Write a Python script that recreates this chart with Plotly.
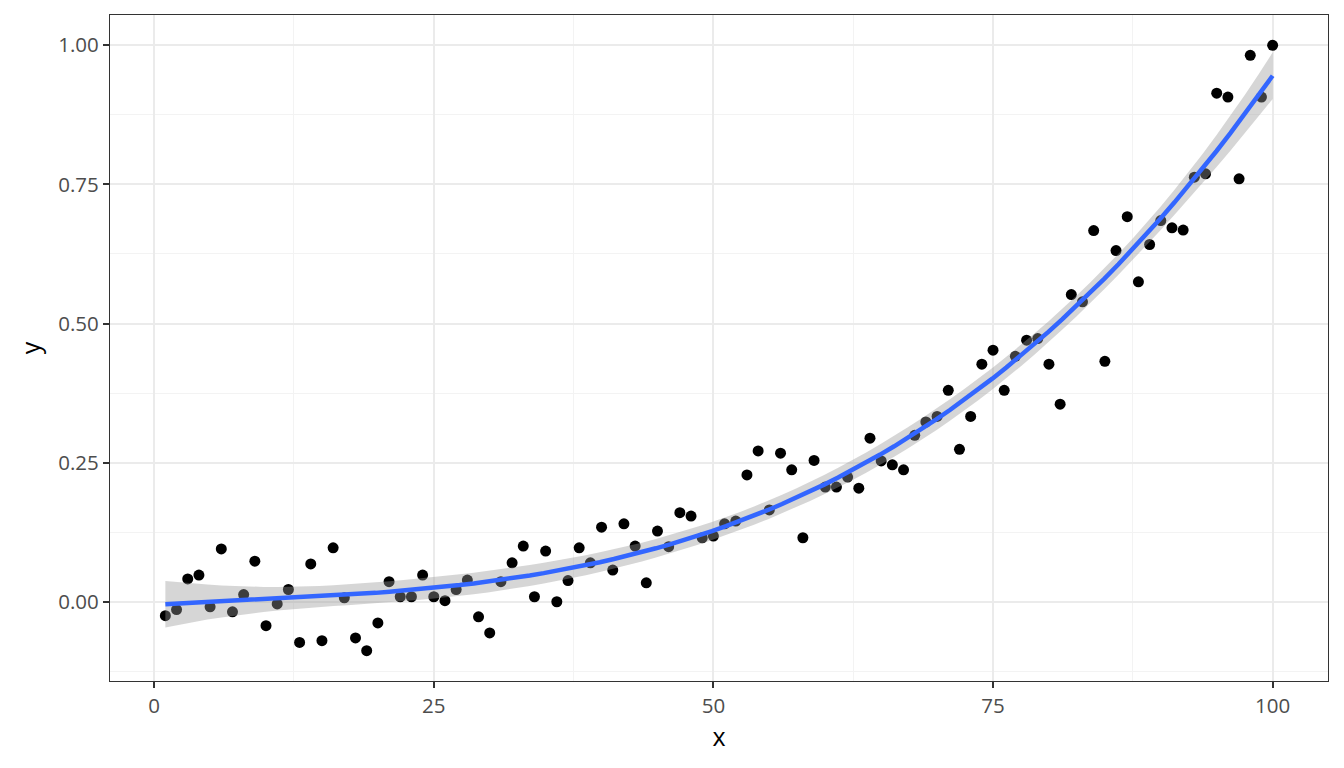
import numpy as np
import plotly.graph_objects as go

x_vals = list(range(1, 101))
y_vals = [
    -0.025, -0.014, 0.041, 0.048, -0.009, 0.095, -0.018, 0.013, 0.073, -0.043,
    -0.004, 0.022, -0.073, 0.068, -0.070, 0.097, 0.007, -0.065, -0.088, -0.038,
    0.036, 0.009, 0.009, 0.048, 0.009, 0.002, 0.022, 0.039, -0.027, -0.056,
    0.036, 0.070, 0.100, 0.009, 0.091, 0.000, 0.038, 0.097, 0.070, 0.134,
    0.057, 0.140, 0.100, 0.034, 0.127, 0.099, 0.160, 0.154, 0.115, 0.118,
    0.140, 0.145, 0.228, 0.271, 0.165, 0.267, 0.237, 0.115, 0.254, 0.206,
    0.206, 0.224, 0.204, 0.294, 0.253, 0.246, 0.237, 0.299, 0.323, 0.333,
    0.380, 0.274, 0.333, 0.427, 0.452, 0.380, 0.441, 0.470, 0.473, 0.427,
    0.355, 0.552, 0.539, 0.667, 0.432, 0.631, 0.692, 0.575, 0.642, 0.685,
    0.672, 0.668, 0.763, 0.769, 0.914, 0.907, 0.760, 0.982, 0.907, 1.000,
]
x_ticks = [0, 25, 50, 75, 100]
y_ticks = [0.0, 0.25, 0.5, 0.75, 1.0]
y_tick_labels = ["0.00", "0.25", "0.50", "0.75", "1.00"]

# --- linear model y ~ poly(x, 3) with 95% confidence band ---
xs = np.array(x_vals, dtype=float)
ys = np.array(y_vals, dtype=float)
n = len(xs)
mu, sd = xs.mean(), xs.std()


def design(v):
    z = (np.asarray(v, dtype=float) - mu) / sd
    return np.column_stack([np.ones_like(z), z, z ** 2, z ** 3])


X = design(xs)
beta, *_ = np.linalg.lstsq(X, ys, rcond=None)
resid = ys - X @ beta
p = X.shape[1]
sigma = np.sqrt(np.sum(resid ** 2) / (n - p))
XtX_inv = np.linalg.inv(X.T @ X)
tq = 1.985  # t quantile 0.975, df = 96

grid = np.linspace(xs.min(), xs.max(), 80)
G = design(grid)
fit = G @ beta
se = sigma * np.sqrt(np.einsum("ij,jk,ik->i", G, XtX_inv, G))
lo = fit - tq * se
hi = fit + tq * se

ymin = min(ys.min(), lo.min())
ymax = max(ys.max(), hi.max())
yr = ymax - ymin
xr = xs.max() - xs.min()

fig = go.Figure()
fig.add_trace(go.Scatter(
    x=x_vals, y=y_vals, mode="markers",
    marker=dict(color="black", size=11, line=dict(width=0)),
    showlegend=False,
))
fig.add_trace(go.Scatter(
    x=list(grid) + list(grid[::-1]), y=list(hi) + list(lo[::-1]),
    fill="toself", fillcolor="rgba(153,153,153,0.4)",
    line=dict(width=0), mode="lines", hoverinfo="skip", showlegend=False,
))
fig.add_trace(go.Scatter(
    x=grid, y=fit, mode="lines",
    line=dict(color="#3366FF", width=4.5), showlegend=False,
))

axis_common = dict(
    showline=True, linecolor="#333333", linewidth=1.2, mirror=True,
    ticks="outside", ticklen=6, tickwidth=2, tickcolor="#333333",
    tickfont=dict(family="Open Sans", size=20.5, color="#4D4D4D"),
    showgrid=True, gridcolor="#EBEBEB", gridwidth=2, zeroline=False,
)

fig.update_xaxes(
    range=[xs.min() - 0.05 * xr, xs.max() + 0.05 * xr],
    tickvals=x_ticks, ticktext=[str(t) for t in x_ticks],
    minor=dict(tickvals=[12.5, 37.5, 62.5, 87.5], showgrid=True,
               gridcolor="#F3F3F3", gridwidth=1, ticks=""),
    title=dict(text="x", font=dict(family="Open Sans", size=25, color="black"), standoff=6),
    **axis_common,
)
fig.update_yaxes(
    range=[ymin - 0.05 * yr, ymax + 0.05 * yr],
    tickvals=y_ticks, ticktext=y_tick_labels,
    minor=dict(tickvals=[-0.125, 0.125, 0.375, 0.625, 0.875], showgrid=True,
               gridcolor="#F3F3F3", gridwidth=1, ticks=""),
    title=dict(text="y", font=dict(family="Open Sans", size=25, color="black"), standoff=10),
    **axis_common,
)
fig.update_layout(
    width=1344, height=768,
    plot_bgcolor="white", paper_bgcolor="white",
    margin=dict(l=110, r=16, t=15, b=87),
    font=dict(family="Open Sans"),
)
fig.write_html(
    "out.html",
    config={"displayModeBar": False},
    post_script="document.body.style.margin='0';document.body.style.overflow='hidden';",
)
